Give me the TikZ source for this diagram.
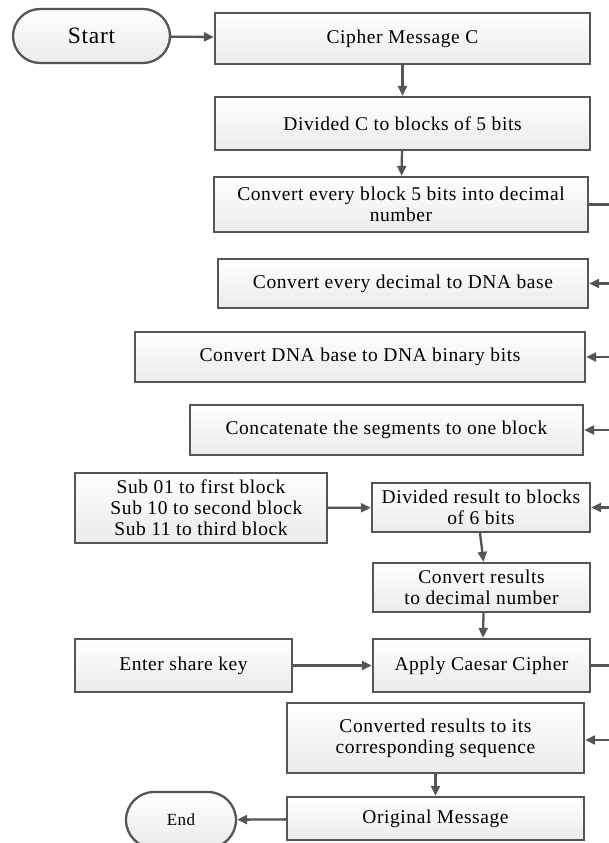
\documentclass[tikz,border=0pt]{standalone}
\usepackage{fontspec}
\setmainfont{Liberation Serif}[LetterSpace=3]
\usetikzlibrary{arrows.meta,shapes.misc}
\definecolor{edge}{HTML}{555555}
\tikzset{
  box/.style={draw=edge, line width=2.3pt, top color=white, bottom color=gray!16,
    align=center, inner sep=2pt, font=\fontsize{19.5}{21}\selectfont},
  pill/.style={box, rounded rectangle},
  arr/.style={draw=edge, line width=2.3pt, -{Triangle[length=10pt,width=9pt]}},
  ln/.style={draw=edge, line width=2.3pt}
}
\begin{document}
\begin{tikzpicture}[x=1pt,y=-1pt]
\useasboundingbox (0,0) rectangle (609,843);
% nodes
\node[pill, minimum width=161pt, minimum height=54pt, font=\fontsize{23.5}{26}\selectfont] (start) at (91.5,36) {Start};
\node[box, minimum width=375pt, minimum height=51pt] (cipher) at (402.5,38.5) {Cipher Message C};
\node[box, minimum width=375pt, minimum height=53pt] (divc) at (402.5,123.5) {Divided C to blocks of 5 bits};
\node[box, minimum width=374pt, minimum height=55pt] (convblk) at (401,204.5) {Convert every block 5 bits into decimal\\number};
\node[box, minimum width=370pt, minimum height=49pt] (convdec) at (403,283.5) {Convert every decimal to DNA base};
\node[box, minimum width=450pt, minimum height=50pt] (dnabin) at (360,357) {Convert DNA base to DNA binary bits};
\node[box, minimum width=393pt, minimum height=50pt] (concat) at (386.5,430) {Concatenate the segments to one block};
\node[box, minimum width=252pt, minimum height=70pt] (sub) at (201,508) {Sub 01 to first block\\\ \ Sub 10 to second block\\Sub 11 to third block};
\node[box, minimum width=218pt, minimum height=49pt] (divres) at (481,507.5) {Divided result to blocks\\of 6 bits};
\node[box, minimum width=217pt, minimum height=49pt] (convres) at (481.5,587.5) {Convert results\\to decimal number};
\node[box, minimum width=217pt, minimum height=53pt] (enter) at (183.5,665.5) {Enter share key};
\node[box, minimum width=217pt, minimum height=53pt] (caesar) at (481.5,665.5) {Apply Caesar Cipher};
\node[box, minimum width=297pt, minimum height=70pt] (converted) at (435.5,738) {Converted results to its\\corresponding sequence};
\node[box, minimum width=297pt, minimum height=43pt] (orig) at (435.5,818.5) {Original Message};
\node[pill, minimum width=114pt, minimum height=56pt, font=\fontsize{17}{19}\selectfont] (end) at (181,820) {End};
% free ends on the right
\coordinate (r1) at (612,204.5);
\coordinate (r2) at (612,283.5);
\coordinate (r3) at (612,357);
\coordinate (r4) at (612,430);
\coordinate (r5) at (612,507.5);
\coordinate (r6) at (612,665.5);
\coordinate (r7) at (612,740);
% connectors
\draw[arr] (start) -- (cipher);
\draw[arr] (cipher) -- (divc);
\draw[arr] (divc) -- (convblk);
\draw[ln] (convblk.east) -- (r1);
\draw[arr] (r2) -- (convdec.east);
\draw[arr] (r3) -- (dnabin.east);
\draw[arr] (r4) -- (concat.east);
\draw[arr] (r5) -- (divres.east);
\draw[arr] (sub) -- (divres);
\draw[arr] ([xshift=-1pt]divres.south) -- ([xshift=2pt]convres.north);
\draw[arr] ([xshift=2pt]convres.south) -- ([xshift=1.5pt]caesar.north);
\draw[arr] (enter) -- (caesar);
\draw[ln] (caesar.east) -- (r6);
\draw[arr] (r7) -- (converted.east |- r7);
\draw[arr] (converted) -- (orig);
\draw[arr] (orig) -- (end);
\end{tikzpicture}
\end{document}
